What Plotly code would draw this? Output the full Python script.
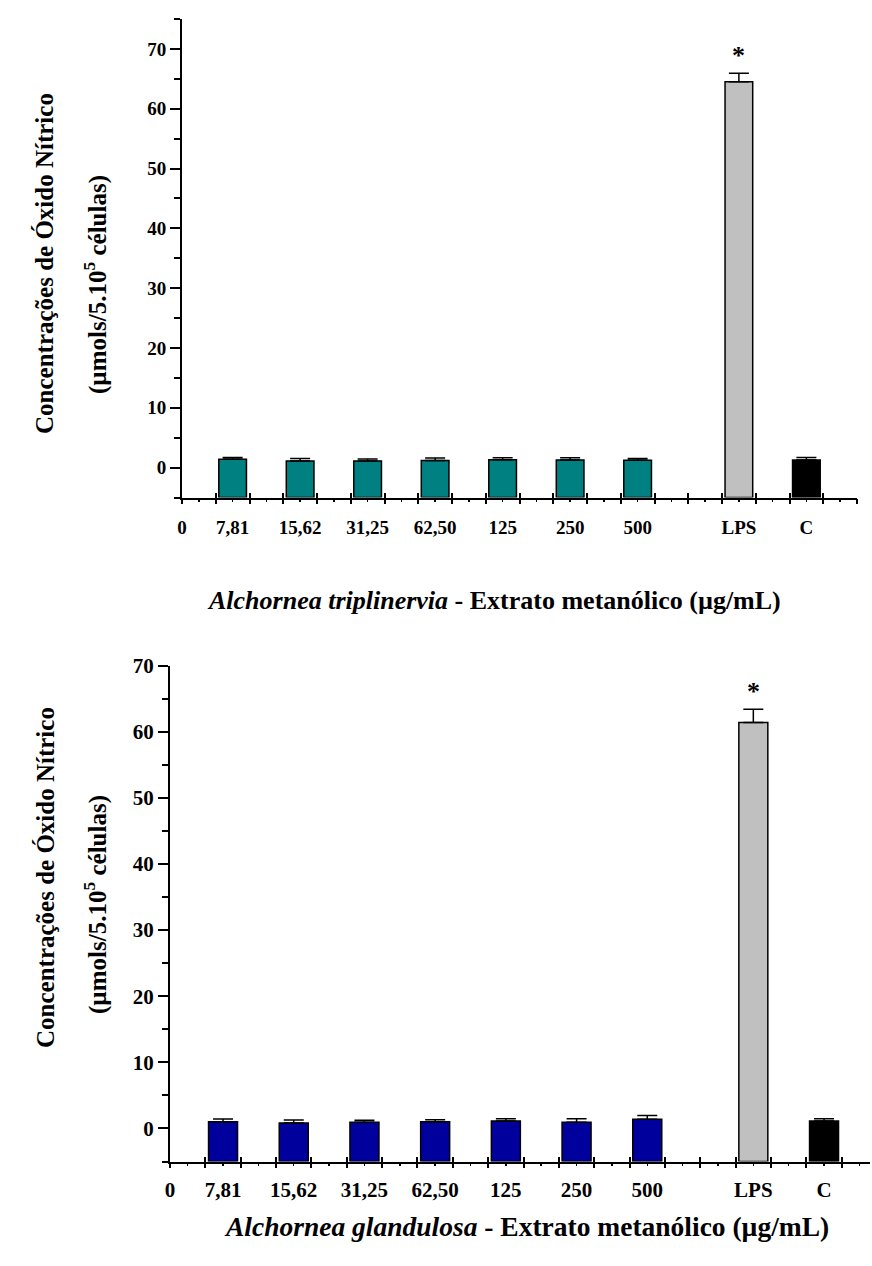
import plotly.graph_objects as go

# ---------------- data ----------------
conc_labels = ["7,81", "15,62", "31,25", "62,50", "125", "250", "500"]
control_labels = ["LPS", "C"]

tri_means = [1.40, 1.10, 1.12, 1.17, 1.33, 1.28, 1.23]
tri_sd = [0.27, 0.42, 0.33, 0.43, 0.30, 0.38, 0.27]
tri_lps, tri_lps_sd = 64.5, 1.45
tri_c, tri_c_sd = 1.29, 0.38

gla_means = [1.03, 0.83, 0.94, 1.03, 1.14, 0.94, 1.39]
gla_sd = [0.41, 0.46, 0.30, 0.30, 0.34, 0.54, 0.55]
gla_lps, gla_lps_sd = 61.4, 2.0
gla_c, gla_c_sd = 1.14, 0.34

# slot positions on the x axis (two axis units per slot, one empty slot before LPS)
conc_x = [2 * i + 1.5 for i in range(len(conc_labels))]
ctrl_x = [2 * (len(conc_labels) + 1 + i) + 0.5 for i in range(len(control_labels))]
label_x = [0] + conc_x + ctrl_x
label_text = ["0"] + conc_labels + control_labels

FONT = "Liberation Serif"
W, H = 872, 1266
BASE = -5  # bars are drawn up from the bottom of the y axis

fig = go.Figure()

panels = [
    dict(means=tri_means, sd=tri_sd, lps=tri_lps, lps_sd=tri_lps_sd, c=tri_c, c_sd=tri_c_sd,
         color="#008080", xa="x", ya="y", o1="x3", o2="x4", ov1="xaxis3", ov2="xaxis4",
         xkey="xaxis", ykey="yaxis",
         px=(182, 857), py=(19, 497.5), xmax=20, yr=(-5, 75), fs_tick=19, fs_title=25, fs_xt=26,
         ylab_x=45, ylab1_y=264, ylab2_x=95, ylab2_y=285, xt_x=494, xt_y=600,
         species="Alchornea triplinervia", lablen=12),
    dict(means=gla_means, sd=gla_sd, lps=gla_lps, lps_sd=gla_lps_sd, c=gla_c, c_sd=gla_c_sd,
         color="#00009C", xa="x2", ya="y2", o1="x5", o2="x6", ov1="xaxis5", ov2="xaxis6",
         xkey="xaxis2", ykey="yaxis2",
         px=(170, 870), py=(665.7, 1161.5), xmax=19.8, yr=(-5, 70), fs_tick=21, fs_title=25, fs_xt=27.5,
         ylab_x=45, ylab1_y=878, ylab2_x=95, ylab2_y=905, xt_x=526, xt_y=1226,
         species="Alchornea glandulosa", lablen=8),
]


def bar(xs, vals, sds, color, p):
    return go.Bar(
        x=xs, y=[v - BASE for v in vals], base=BASE, width=0.82,
        xaxis=p["xa"], yaxis=p["ya"],
        marker=dict(color=color, line=dict(color="black", width=1.5)),
        error_y=dict(type="data", symmetric=False, array=sds, arrayminus=[0] * len(sds),
                     color="black", thickness=1.5, width=10, visible=True),
        showlegend=False)


for p in panels:
    fig.add_trace(bar(conc_x, p["means"], p["sd"], p["color"], p))
    fig.add_trace(bar([ctrl_x[0]], [p["lps"]], [p["lps_sd"]], "#C0C0C0", p))
    fig.add_trace(bar([ctrl_x[1]], [p["c"]], [p["c_sd"]], "black", p))
    # empty traces so the overlaid tick-only axes get drawn
    for o in (p["o1"], p["o2"]):
        fig.add_trace(go.Scatter(x=[None], y=[None], xaxis=o, yaxis=p["ya"], mode="markers",
                                 showlegend=False, hoverinfo="skip"))

    xd = [p["px"][0] / W, p["px"][1] / W]
    yd = [1 - p["py"][1] / H, 1 - p["py"][0] / H]
    xr = [0, p["xmax"]]
    tickfont = dict(family=FONT, size=p["fs_tick"], color="black", weight="bold")

    fig.layout[p["xkey"]] = dict(
        domain=xd, range=xr, anchor=p["ya"], showgrid=False, zeroline=False, automargin=False,
        showline=True, linecolor="black", linewidth=2,
        tickmode="array", tickvals=label_x, ticktext=label_text,
        ticks="outside", ticklen=p["lablen"], tickcolor="rgba(0,0,0,0)",
        tickfont=tickfont, fixedrange=True)
    fig.layout[p["ov1"]] = dict(
        overlaying=p["xa"], anchor=p["ya"], domain=xd, range=xr, side="bottom", automargin=False,
        showgrid=False, zeroline=False, showline=False, showticklabels=False,
        tickmode="linear", tick0=0, dtick=1, ticks="outside", ticklen=5,
        tickwidth=2, tickcolor="black",
        minor=dict(tickmode="linear", tick0=0, dtick=0.5, ticks="outside",
                   ticklen=3, tickwidth=1.5, tickcolor="black"),
        fixedrange=True)
    fig.layout[p["ov2"]] = dict(
        overlaying=p["xa"], anchor=p["ya"], domain=xd, range=xr, side="bottom", automargin=False,
        showgrid=False, zeroline=False, showline=False, showticklabels=False,
        tickmode="linear", tick0=0, dtick=1, ticks="inside", ticklen=5,
        tickwidth=2, tickcolor="black", fixedrange=True)
    fig.layout[p["ykey"]] = dict(
        domain=yd, range=list(p["yr"]), anchor=p["xa"], showgrid=False, zeroline=False,
        automargin=False, showline=True, linecolor="black", linewidth=2,
        tickmode="linear", tick0=0, dtick=10, ticks="outside", ticklen=10,
        tickwidth=2, tickcolor="black",
        minor=dict(tickmode="linear", tick0=-5, dtick=5, ticks="outside",
                   ticklen=6, tickwidth=2, tickcolor="black"),
        tickfont=tickfont, fixedrange=True)

    # significance star above LPS
    fig.add_annotation(x=ctrl_x[0], y=p["lps"] + p["lps_sd"], xref=p["xa"], yref=p["ya"],
                       text="*", showarrow=False, yanchor="bottom", yshift=1,
                       font=dict(family=FONT, size=26, color="black", weight="bold"))
    # y-axis title (two lines)
    fig.add_annotation(x=p["ylab_x"] / W, y=1 - p["ylab1_y"] / H, xref="paper", yref="paper",
                       text="Concentrações de Óxido Nítrico", textangle=-90, showarrow=False,
                       xanchor="center", yanchor="middle",
                       font=dict(family=FONT, size=p["fs_title"], color="black", weight="bold"))
    fig.add_annotation(x=p["ylab2_x"] / W, y=1 - p["ylab2_y"] / H, xref="paper", yref="paper",
                       text="(µmols/5.10<sup>5</sup> células)", textangle=-90, showarrow=False,
                       xanchor="center", yanchor="middle",
                       font=dict(family=FONT, size=p["fs_title"], color="black", weight="bold"))
    # x-axis title
    fig.add_annotation(x=p["xt_x"] / W, y=1 - p["xt_y"] / H, xref="paper", yref="paper",
                       text=f"<i>{p['species']}</i> - Extrato metanólico (µg/mL)", showarrow=False,
                       xanchor="center", yanchor="middle",
                       font=dict(family=FONT, size=p["fs_xt"], color="black", weight="bold"))

fig.update_layout(
    width=W, height=H, margin=dict(l=0, r=0, t=0, b=0, autoexpand=False),
    paper_bgcolor="white", plot_bgcolor="white", bargap=0,
    font=dict(family=FONT, color="black"), hovermode=False,
)

fig.write_html("out.html", config={"displayModeBar": False, "staticPlot": True},
               post_script="document.body.style.margin='0';")
